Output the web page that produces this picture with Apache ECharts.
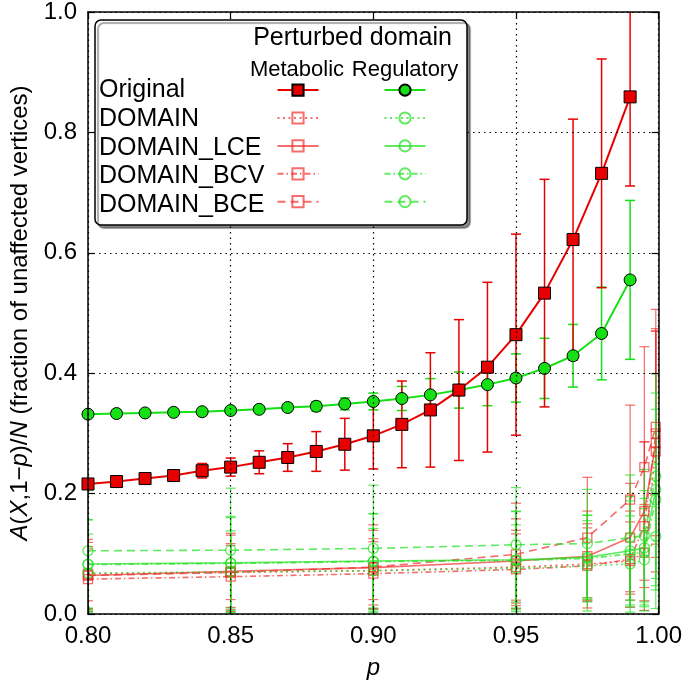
<!DOCTYPE html>
<html>
<head>
<meta charset="utf-8">
<script src="https://cdn.jsdelivr.net/npm/echarts@6/dist/echarts.min.js"></script>
<style>html,body{margin:0;padding:0;background:#fff}#c{width:685px;height:685px}</style>
</head>
<body>
<div id="c"></div>
<script>
// ---------- data ----------
const xOrig = [0.80,0.81,0.82,0.83,0.84,0.85,0.86,0.87,0.88,0.89,0.90,0.91,0.92,0.93,0.94,0.95,0.96,0.97,0.98,0.99];
const metOriginal    = [0.216,0.220,0.225,0.230,0.238,0.244,0.252,0.260,0.270,0.282,0.296,0.315,0.339,0.372,0.410,0.464,0.533,0.622,0.732,0.859];
const metOriginalErr = [0.004,0.005,0.007,0.009,0.012,0.015,0.019,0.023,0.033,0.043,0.055,0.072,0.095,0.117,0.141,0.167,0.189,0.200,0.190,0.148];
const regOriginal    = [0.332,0.333,0.334,0.335,0.336,0.338,0.340,0.343,0.345,0.349,0.353,0.358,0.364,0.372,0.381,0.392,0.408,0.429,0.466,0.555];
const regOriginalErr = [0.003,0.003,0.003,0.003,0.004,0.004,0.005,0.006,0.008,0.010,0.014,0.020,0.027,0.030,0.035,0.040,0.050,0.052,0.077,0.132];

const xDomain = [0.80,0.85,0.90,0.95,0.975,0.99,0.995,0.999];
const metDomain    = [0.067,0.069,0.072,0.078,0.083,0.088,0.102,0.270];
const metDomainErr = [0.045,0.045,0.048,0.055,0.060,0.065,0.080,0.200];
const metLCE       = [0.064,0.071,0.077,0.088,0.096,0.127,0.171,0.284];
const metLCEErr    = [0.055,0.060,0.062,0.070,0.075,0.090,0.115,0.190];
const metBCV       = [0.058,0.062,0.067,0.074,0.080,0.091,0.146,0.300];
const metBCVErr    = [0.050,0.055,0.058,0.065,0.070,0.080,0.140,0.170];
const metBCE       = [0.064,0.069,0.078,0.099,0.127,0.190,0.244,0.311];
const metBCEErr    = [0.060,0.065,0.070,0.085,0.100,0.157,0.200,0.195];
const regDomain    = [0.068,0.070,0.072,0.076,0.080,0.083,0.090,0.129];
const regDomainErr = [0.065,0.068,0.070,0.072,0.075,0.080,0.085,0.120];
const regLCE       = [0.083,0.085,0.088,0.090,0.094,0.105,0.110,0.207];
const regLCEErr    = [0.073,0.075,0.078,0.080,0.070,0.090,0.095,0.160];
const regBCV       = [0.082,0.084,0.087,0.089,0.092,0.100,0.102,0.190];
const regBCVErr    = [0.075,0.078,0.080,0.082,0.072,0.088,0.090,0.150];
const regBCE       = [0.105,0.106,0.109,0.115,0.117,0.127,0.130,0.229];
const regBCEErr    = [0.100,0.103,0.105,0.095,0.090,0.104,0.110,0.170];

const xTicks = [0.80,0.85,0.90,0.95,1.00];
const yTicks = [0.0,0.2,0.4,0.6,0.8,1.0];
const rowLabels = ['Original','DOMAIN','DOMAIN_LCE','DOMAIN_BCV','DOMAIN_BCE'];
const columnLabels = ['Metabolic','Regulatory'];
const legendTitle = 'Perturbed domain';

// ---------- styles ----------
const FONT = '"Liberation Sans", Arial, Helvetica, sans-serif';
const RED = '#e80000', GREEN = '#14e014';
const RED_L = 'rgba(240,40,40,0.68)', GREEN_L = 'rgba(30,225,30,0.7)';
const DOT = [2, 3.5], DASHDOT = [6, 3, 1.5, 3], DASH = [8, 5];

function pairs(xs, ys) { return xs.map((x, i) => [x, ys[i]]); }

function errSeries(name, xs, ys, es, color, width) {
  return {
    type: 'custom', name: name, clip: true, z: 2, silent: true,
    data: xs.map((x, i) => [x, ys[i], es[i]]),
    encode: { x: 0, y: 1 },
    renderItem: function (params, api) {
      const x = api.value(0), y = api.value(1), e = api.value(2);
      const t = api.coord([x, y + e]), b = api.coord([x, y - e]);
      const w = 5;
      const st = { stroke: color, lineWidth: width };
      return { type: 'group', children: [
        { type: 'line', shape: { x1: t[0], y1: t[1], x2: b[0], y2: b[1] }, style: st },
        { type: 'line', shape: { x1: t[0] - w, y1: t[1], x2: t[0] + w, y2: t[1] }, style: st },
        { type: 'line', shape: { x1: b[0] - w, y1: b[1], x2: b[0] + w, y2: b[1] }, style: st }
      ]};
    }
  };
}

function origLine(name, xs, ys, color, symbol) {
  return {
    type: 'line', name: name, data: pairs(xs, ys), z: 2,
    symbol: symbol, symbolSize: 12,
    lineStyle: { color: color, width: 2 },
    itemStyle: { color: color, borderColor: '#000', borderWidth: 1 }
  };
}
function domLine(name, xs, ys, color, symbol, dash) {
  return {
    type: 'line', name: name, data: pairs(xs, ys), z: 2,
    symbol: symbol, symbolSize: symbol === 'rect' ? 9 : 10,
    lineStyle: { color: color, width: 1.6, type: dash },
    itemStyle: { color: 'rgba(255,255,255,0)', borderColor: color, borderWidth: 1.3 }
  };
}

const metNames = ['Metabolic Original','Metabolic DOMAIN','Metabolic DOMAIN_LCE','Metabolic DOMAIN_BCV','Metabolic DOMAIN_BCE'];
const regNames = ['Regulatory Original','Regulatory DOMAIN','Regulatory DOMAIN_LCE','Regulatory DOMAIN_BCV','Regulatory DOMAIN_BCE'];

const series = [
  errSeries('e1', xDomain, metDomain, metDomainErr, RED_L, 1.2),
  errSeries('e2', xDomain, metLCE, metLCEErr, RED_L, 1.2),
  errSeries('e3', xDomain, metBCV, metBCVErr, RED_L, 1.2),
  errSeries('e4', xDomain, metBCE, metBCEErr, RED_L, 1.2),
  domLine(metNames[1], xDomain, metDomain, RED_L, 'rect', DOT),
  domLine(metNames[2], xDomain, metLCE, RED_L, 'rect', 'solid'),
  domLine(metNames[3], xDomain, metBCV, RED_L, 'rect', DASHDOT),
  domLine(metNames[4], xDomain, metBCE, RED_L, 'rect', DASH),
  errSeries('e5', xDomain, regDomain, regDomainErr, GREEN_L, 1.2),
  errSeries('e6', xDomain, regLCE, regLCEErr, GREEN_L, 1.2),
  errSeries('e7', xDomain, regBCV, regBCVErr, GREEN_L, 1.2),
  errSeries('e8', xDomain, regBCE, regBCEErr, GREEN_L, 1.2),
  domLine(regNames[1], xDomain, regDomain, GREEN_L, 'circle', DOT),
  domLine(regNames[2], xDomain, regLCE, GREEN_L, 'circle', 'solid'),
  domLine(regNames[3], xDomain, regBCV, GREEN_L, 'circle', DASHDOT),
  domLine(regNames[4], xDomain, regBCE, GREEN_L, 'circle', DASH),
  errSeries('e9', xOrig, regOriginal, regOriginalErr, GREEN, 1.5),
  origLine(regNames[0], xOrig, regOriginal, GREEN, 'circle'),
  errSeries('e10', xOrig, metOriginal, metOriginalErr, RED, 1.5),
  origLine(metNames[0], xOrig, metOriginal, RED, 'rect')
];

const gridLine = { show: true, lineStyle: { color: '#000', width: 1.2, type: [1.5, 4] } };
const axLine = { show: true, onZero: false, lineStyle: { color: '#000', width: 1.5 } };
const axTick = { show: true, inside: true, length: 7, lineStyle: { color: '#000', width: 1.2 } };

// legend geometry
const LX = 95, LY = 20, LW = 372, LH = 205;
const rowY0 = 90.5, rowStep = 28.7;
const colRed = 297, colGreen = 404, itemW = 41, itemH = 14;

const graphics = [
  { type: 'rect', z: 10, shape: { x: LX, y: LY, width: LW, height: LH, r: 6 },
    style: { fill: '#fff', stroke: '#000', lineWidth: 1.5, shadowColor: 'rgba(0,0,0,0.45)', shadowOffsetX: 3, shadowOffsetY: 3, shadowBlur: 1 } },
  { type: 'text', z: 11, x: (colRed + colGreen) / 2 + 2, y: 38,
    style: { text: legendTitle, font: '25px ' + FONT, fill: '#000', align: 'center', verticalAlign: 'middle' } },
  { type: 'text', z: 11, x: colRed, y: 70,
    style: { text: columnLabels[0], font: '22px ' + FONT, fill: '#000', align: 'center', verticalAlign: 'middle' } },
  { type: 'text', z: 11, x: colGreen + 1, y: 70,
    style: { text: columnLabels[1], font: '22px ' + FONT, fill: '#000', align: 'center', verticalAlign: 'middle' } }
].concat(rowLabels.map((t, i) => ({
  type: 'text', z: 11, x: 99, y: rowY0 + i * rowStep,
  style: { text: t, font: '25px ' + FONT, fill: '#000', align: 'left', verticalAlign: 'middle' }
})));

function legendAt(left, names) {
  return {
    data: names, orient: 'vertical', left: left, top: rowY0 - itemH / 2,
    itemWidth: itemW, itemHeight: itemH, itemGap: rowStep - itemH, padding: 0,
    formatter: function () { return ''; },
    textStyle: { fontSize: 10, lineHeight: 12 }, selectedMode: false, z: 12
  };
}

const chart = echarts.init(document.getElementById('c'), null, { renderer: 'canvas' });
chart.setOption({
  animation: false,
  backgroundColor: '#fff',
  textStyle: { fontFamily: FONT },
  grid: { left: 85, right: 24, top: 10, bottom: 70, containLabel: false },
  xAxis: [
    { type: 'value', min: xTicks[0], max: xTicks[xTicks.length - 1], interval: 0.05, position: 'bottom', z: 3,
      axisLine: axLine, axisTick: axTick, splitLine: gridLine,
      axisLabel: { color: '#000', fontSize: 24, fontFamily: FONT, margin: 10, formatter: v => v.toFixed(2) },
      name: 'p', nameLocation: 'middle', nameGap: 42,
      nameTextStyle: { color: '#000', fontSize: 24, fontStyle: 'italic', fontFamily: FONT } },
    { type: 'value', min: xTicks[0], max: xTicks[xTicks.length - 1], interval: 0.05, position: 'top', z: 3,
      axisLine: axLine, axisTick: axTick, splitLine: { show: false }, axisLabel: { show: false } }
  ],
  yAxis: [
    { type: 'value', min: yTicks[0], max: yTicks[yTicks.length - 1], interval: 0.2, position: 'left', z: 3,
      axisLine: axLine, axisTick: axTick, splitLine: gridLine,
      axisLabel: { color: '#000', fontSize: 24, fontFamily: FONT, margin: 11, formatter: v => v.toFixed(1) },
      name: '{i|A}({i|X},1\u2212{i|p})/{i|N} (fraction of unaffected vertices)',
      nameLocation: 'middle', nameGap: 56, nameRotate: 90,
      nameTextStyle: { color: '#000', fontSize: 24, fontFamily: FONT,
        rich: { i: { fontStyle: 'italic', fontSize: 24, fontFamily: FONT, color: '#000' } } } },
    { type: 'value', min: yTicks[0], max: yTicks[yTicks.length - 1], interval: 0.2, position: 'right', z: 3,
      axisLine: axLine, axisTick: axTick, splitLine: { show: false }, axisLabel: { show: false } }
  ],
  legend: [legendAt(colRed - itemW / 2, metNames), legendAt(colGreen - itemW / 2, regNames)],
  graphic: graphics,
  series: series
});
</script>
</body>
</html>
